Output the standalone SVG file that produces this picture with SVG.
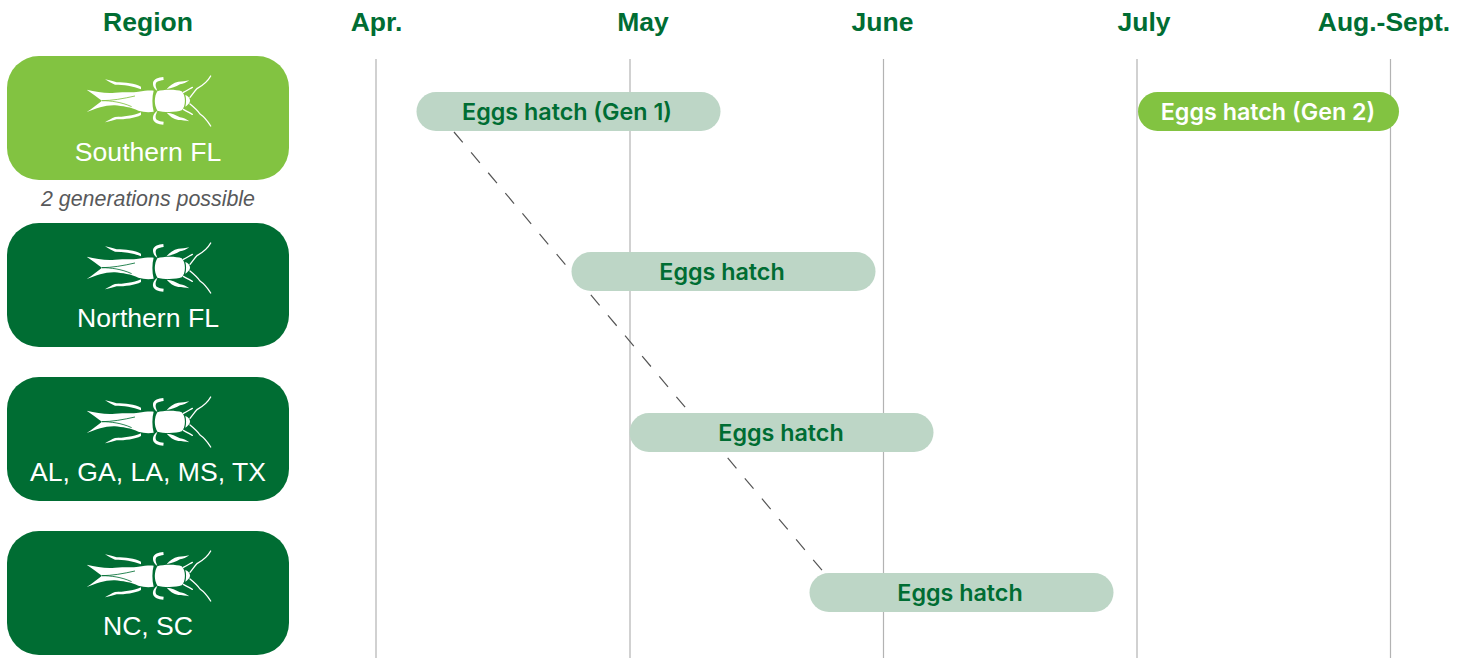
<svg xmlns="http://www.w3.org/2000/svg" width="1468" height="658" viewBox="0 0 1468 658">
<style>
text{font-family:"Liberation Sans",Arial,sans-serif;text-anchor:middle}
.hd{font-size:26.500px;font-weight:700;fill:#006d33}
.rg{font-size:26.600px;fill:#fff}
.bar{font-family:Inter,"Liberation Sans",sans-serif;font-size:23.300px;font-weight:600;fill:#006d33}
.grid{stroke:#b3b3b3;stroke-width:1.2;fill:none}
.pale{fill:#bdd6c6}
.dark{fill:#006d33}
.lime{fill:#82c341}
.dash{stroke:#555;stroke-width:1.2;stroke-dasharray:13.600 13;fill:none}
.ant{fill:none;stroke:#fff;stroke-width:4;stroke-linecap:round;stroke-linejoin:round}
.sep{fill:none;stroke:currentColor;stroke-width:2.500}
</style>
<defs>
<g id="cricket" transform="translate(0 50) scale(.33333)">
<path fill="#fff" d="M260 119C290 125 320 132 345 128C375 125 400 128 415 125C435 122 450 120 461 122C456 140 456 165 461 185C445 188 430 186 415 182C395 172 365 168 345 166C315 165 290 175 260 186C278 174 292 163 306 152C292 142 278 131 260 119Z"/>
<path class="sep" d="M306 152C335 152 370 146 405 138"/>
<path class="sep" d="M306 152C330 152 365 156 395 170"/>
<path fill="#fff" d="M472 124C490 118 530 118 545 124C558 135 558 170 545 181C530 187 490 187 472 182C462 165 462 140 472 124Z"/>
<path fill="#fff" d="M556 135C565 138 571 146 570 153C569 160 563 165 556 170C559 158 559 146 556 135Z"/>
<path id="leg-set" fill="#fff" d="M315 88C330 90 340 95 350 97C375 97 405 100 423 110L423 118C400 108 370 104 345 104C335 100 325 94 315 88ZM490 81C475 82 462 86 459 98C458 108 464 118 472 122C468 112 464 104 470 96C476 92 484 91 491 90ZM500 117C510 106 520 98 535 95C545 95 558 93 568 91C558 98 550 102 540 103C527 110 515 116 500 117Z"/>
<path fill="#fff" d="M315 217C330 215 340 210 350 208C375 208 405 205 423 195L423 187C400 197 370 201 345 201C335 205 325 211 315 217ZM490 224C475 223 462 219 459 207C458 197 464 187 472 183C468 193 464 201 470 209C476 213 484 214 491 215ZM500 188C510 199 520 207 535 210C545 210 558 212 568 214C558 207 550 203 540 202C527 195 515 189 500 188Z"/>
<path class="ant" d="M570 142C578 132 585 122 592 115C605 108 620 100 632 78"/>
<path class="ant" d="M570 162C580 170 592 180 600 192C612 200 622 212 632 228"/>
<path class="ant" d="M550 127C560 122 568 117 577 112"/>
<path class="ant" d="M550 178C560 183 568 188 577 193"/>
</g>
</defs>
<g id="grid" class="grid">
<path d="M376 59V658M630 59V658M883.500 59V658M1137 59V658M1390.500 59V658"/>
</g>
<g id="connectors"><path class="dash" d="M454 132L826 575"/></g>
<g id="headers">
<text class="hd" x="148" y="31">Region</text>
<text class="hd" x="376.500" y="31">Apr.</text>
<text class="hd" x="643" y="31">May</text>
<text class="hd" x="882.500" y="31">June</text>
<text class="hd" x="1144" y="31">July</text>
<text class="hd" x="1384" y="31">Aug.-Sept.</text>
</g>
<g id="node-southern-fl" color="#82c341">
<rect class="lime" x="7" y="56" width="282" height="124" rx="32"/>
<use href="#cricket"/>
<text class="rg" x="148" y="160.500">Southern FL</text>
</g>
<text id="note" x="148" y="206" font-size="21.400" font-style="italic" fill="#58595b">2 generations possible</text>
<g id="node-northern-fl" color="#006d33">
<rect class="dark" x="7" y="223" width="282" height="124" rx="32"/>
<use href="#cricket" y="167"/>
<text class="rg" x="148" y="326.500">Northern FL</text>
</g>
<g id="node-al-ga-la-ms-tx" color="#006d33">
<rect class="dark" x="7" y="377" width="282" height="124" rx="32"/>
<use href="#cricket" y="321"/>
<text class="rg" x="148" y="480.500">AL, GA, LA, MS, TX</text>
</g>
<g id="node-nc-sc" color="#006d33">
<rect class="dark" x="7" y="531" width="282" height="124" rx="32"/>
<use href="#cricket" y="475"/>
<text class="rg" x="148" y="634.500">NC, SC</text>
</g>
<g id="bar-gen1"><rect class="pale" x="416.500" y="92" width="304" height="39" rx="19.500"/><text class="bar" x="567" y="120">Eggs hatch (Gen 1)</text></g>
<g id="bar-gen2"><rect class="lime" x="1138" y="92" width="261" height="39" rx="19.500"/><text class="bar" style="fill:#fff" x="1268" y="120">Eggs hatch (Gen 2)</text></g>
<g id="bar-northern"><rect class="pale" x="571.500" y="252" width="304" height="39" rx="19.500"/><text class="bar" x="722" y="280">Eggs hatch</text></g>
<g id="bar-central"><rect class="pale" x="629.500" y="413" width="304" height="39" rx="19.500"/><text class="bar" x="781" y="441">Eggs hatch</text></g>
<g id="bar-carolinas"><rect class="pale" x="809.500" y="573" width="304" height="39" rx="19.500"/><text class="bar" x="960" y="601">Eggs hatch</text></g>
</svg>
